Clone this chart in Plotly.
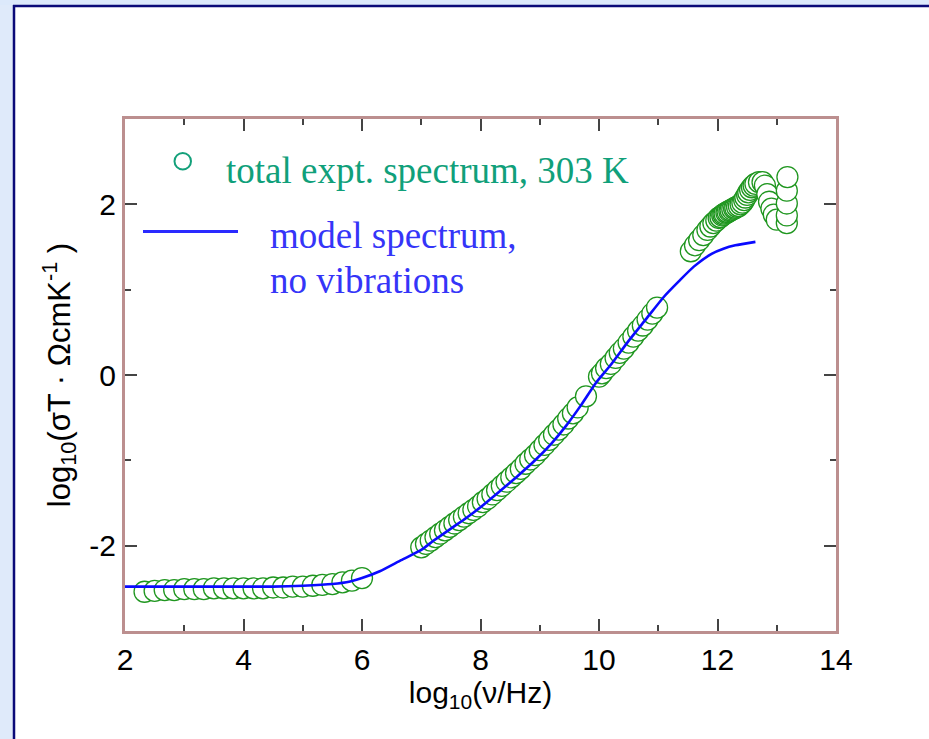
import plotly.graph_objects as go

# ---- data ----
expt_x = [2.33, 2.50, 2.67, 2.83, 3.00, 3.17, 3.33, 3.50, 3.67, 3.83, 4.00, 4.17, 4.33, 4.50,
          4.67, 4.83, 5.00, 5.17, 5.33, 5.50, 5.67, 5.83, 6.00,
          7.0, 7.08, 7.16, 7.24, 7.32, 7.40, 7.48, 7.56, 7.64, 7.72, 7.80, 7.88, 7.96, 8.04, 8.12,
          8.20, 8.28, 8.36, 8.44, 8.52, 8.60, 8.68, 8.76, 8.84, 8.92, 9.00, 9.08, 9.16, 9.24,
          9.32, 9.40, 9.48, 9.56, 9.64, 9.78,
          10.0, 10.05, 10.12, 10.2, 10.28, 10.35, 10.42, 10.5, 10.58, 10.66, 10.74, 10.82, 10.9, 10.98,
          11.55, 11.62, 11.69, 11.76, 11.83, 11.88, 11.93, 11.98, 12.02, 12.05, 12.08, 12.10, 12.12,
          12.15, 12.17, 12.20, 12.22, 12.25, 12.28, 12.30, 12.33, 12.36, 12.39, 12.42, 12.45, 12.47,
          12.50, 12.52, 12.55, 12.58, 12.61, 12.64, 12.70, 12.76, 12.80, 12.84, 12.87,
          12.91, 12.95, 13.00, 13.17, 13.17, 13.17, 13.17, 13.18]
expt_y = [-2.54, -2.53, -2.52, -2.52, -2.51, -2.51, -2.51, -2.50, -2.50, -2.50, -2.50, -2.50, -2.50, -2.49,
          -2.49, -2.48, -2.48, -2.47, -2.46, -2.45, -2.43, -2.41, -2.38,
          -2.02, -1.98, -1.94, -1.90, -1.86, -1.82, -1.78, -1.74, -1.70, -1.66, -1.62, -1.58, -1.54, -1.49, -1.45,
          -1.40, -1.35, -1.30, -1.25, -1.20, -1.15, -1.10, -1.04, -0.99, -0.94, -0.88, -0.82, -0.76, -0.70,
          -0.64, -0.58, -0.51, -0.45, -0.38, -0.25,
          -0.02, 0.02, 0.08, 0.13, 0.20, 0.26, 0.31, 0.38, 0.45, 0.52, 0.58, 0.65, 0.72, 0.79,
          1.45, 1.52, 1.58, 1.64, 1.70, 1.74, 1.78, 1.81, 1.84, 1.85, 1.87, 1.88, 1.89,
          1.90, 1.91, 1.92, 1.93, 1.94, 1.95, 1.96, 1.97, 1.98, 2.00, 2.02, 2.05, 2.08,
          2.11, 2.14, 2.17, 2.20, 2.22, 2.24, 2.26, 2.26, 2.22, 2.12, 2.03,
          1.95, 1.88, 1.82, 1.78, 1.87, 2.01, 2.16, 2.32]

model_x = [2.0, 3.0, 4.0, 4.5, 5.0, 5.5, 5.8, 6.0, 6.3, 6.66, 7.0, 7.21, 7.5, 7.77, 8.0, 8.33,
           8.6, 8.89, 9.2, 9.45, 9.7, 9.95, 10.2, 10.5, 10.8, 11.1, 11.35, 11.6, 11.9, 12.1, 12.3, 12.64]
model_y = [-2.48, -2.48, -2.48, -2.48, -2.47, -2.45, -2.42, -2.38, -2.30, -2.17, -2.05, -1.94, -1.80, -1.67, -1.55, -1.36,
           -1.20, -1.02, -0.80, -0.59, -0.35, -0.09, 0.12, 0.40, 0.66, 0.92, 1.10, 1.27, 1.42, 1.48, 1.52, 1.56]

x_range = [2, 14]
y_range = [-3, 3]
x_tickvals = [2, 4, 6, 8, 10, 12, 14]
x_ticktext = ["2", "4", "6", "8", "10", "12", "14"]
y_tickvals = [-2, 0, 2]
y_ticktext = ["-2", "0", "2"]
legend_labels = ["total expt. spectrum, 303 K", "model spectrum,", "no vibrations"]
x_title = "log<sub>10</sub>(ν/Hz)"
y_title = "log<sub>10</sub>(σT · ΩcmK<sup>-1</sup> )"

# ---- layout geometry ----
W, H = 929, 739
ML, MR, MT, MB = 125, 93, 119, 108
PW, PH = W - ML - MR, H - MT - MB


def px(xp):
    return (xp - ML) / PW


def py(yp):
    return (H - MB - yp) / PH


fig = go.Figure()
fig.add_trace(go.Scatter(
    x=expt_x, y=expt_y, mode="markers",
    marker=dict(symbol="circle", size=21, color="white",
                line=dict(color="#1f961f", width=1.3)),
    showlegend=False, cliponaxis=False))
fig.add_trace(go.Scatter(
    x=model_x, y=model_y, mode="lines",
    line=dict(color="#0a0aff", width=2.6, shape="spline", smoothing=0.6),
    showlegend=False))

sans = "Liberation Sans, Arial, sans-serif"
axis_common = dict(
    showgrid=False, zeroline=False, showline=True, linecolor="#bc8f8f", linewidth=3,
    mirror="allticks", ticks="inside", ticklen=12, tickwidth=1.6, tickcolor="#444444",
    tickfont=dict(family=sans, size=30, color="black"),
    minor=dict(ticks="inside", ticklen=6, tickwidth=1.6, tickcolor="#444444",
               tickmode="linear", dtick=1, showgrid=False),
)

fig.update_xaxes(range=x_range, tickmode="array", tickvals=x_tickvals, ticktext=x_ticktext,
                 title=dict(text=x_title, standoff=2, font=dict(family=sans, size=30, color="black")),
                 **axis_common)
fig.update_yaxes(range=y_range, tickmode="array", tickvals=y_tickvals, ticktext=y_ticktext,
                 title=dict(text=y_title, standoff=10, font=dict(family=sans, size=31, color="black")),
                 **axis_common)

shapes = [
    # page background strips and navy frame
    dict(type="rect", xref="paper", yref="paper", x0=px(0), x1=px(13), y0=py(H), y1=py(0),
         fillcolor="#dfeafa", line=dict(width=0), layer="below"),
    dict(type="rect", xref="paper", yref="paper", x0=px(0), x1=px(W), y0=py(5), y1=py(0),
         fillcolor="#dce9fb", line=dict(width=0), layer="below"),
    dict(type="line", xref="paper", yref="paper", x0=px(14), x1=px(14), y0=py(H), y1=py(5),
         line=dict(color="#0a0a78", width=2.5)),
    dict(type="line", xref="paper", yref="paper", x0=px(13), x1=px(W), y0=py(6), y1=py(6),
         line=dict(color="#0a0a78", width=2.5)),
    # legend symbols
    dict(type="circle", xref="paper", yref="paper", x0=px(174.5), x1=px(191), y0=py(169.5), y1=py(153),
         line=dict(color="#13a07a", width=2), fillcolor="white"),
    dict(type="line", xref="paper", yref="paper", x0=px(143), x1=px(238), y0=py(231.5), y1=py(231.5),
         line=dict(color="#2a2aff", width=3)),
]

serif = "Liberation Serif, Times New Roman, serif"
annotations = [
    dict(text=legend_labels[0], xref="paper", yref="paper", x=px(224), y=py(170), xanchor="left",
         yanchor="middle", showarrow=False, font=dict(family=serif, size=37, color="#10a07a")),
    dict(text=legend_labels[1], xref="paper", yref="paper", x=px(268), y=py(235), xanchor="left",
         yanchor="middle", showarrow=False, font=dict(family=serif, size=37, color="#3535f8")),
    dict(text=legend_labels[2], xref="paper", yref="paper", x=px(268), y=py(280), xanchor="left",
         yanchor="middle", showarrow=False, font=dict(family=serif, size=37, color="#3535f8")),
]

fig.update_layout(
    width=W, height=H,
    margin=dict(l=ML, r=MR, t=MT, b=MB, autoexpand=False),
    paper_bgcolor="white", plot_bgcolor="white",
    shapes=shapes, annotations=annotations, showlegend=False,
)

fig.write_html("out.html")
